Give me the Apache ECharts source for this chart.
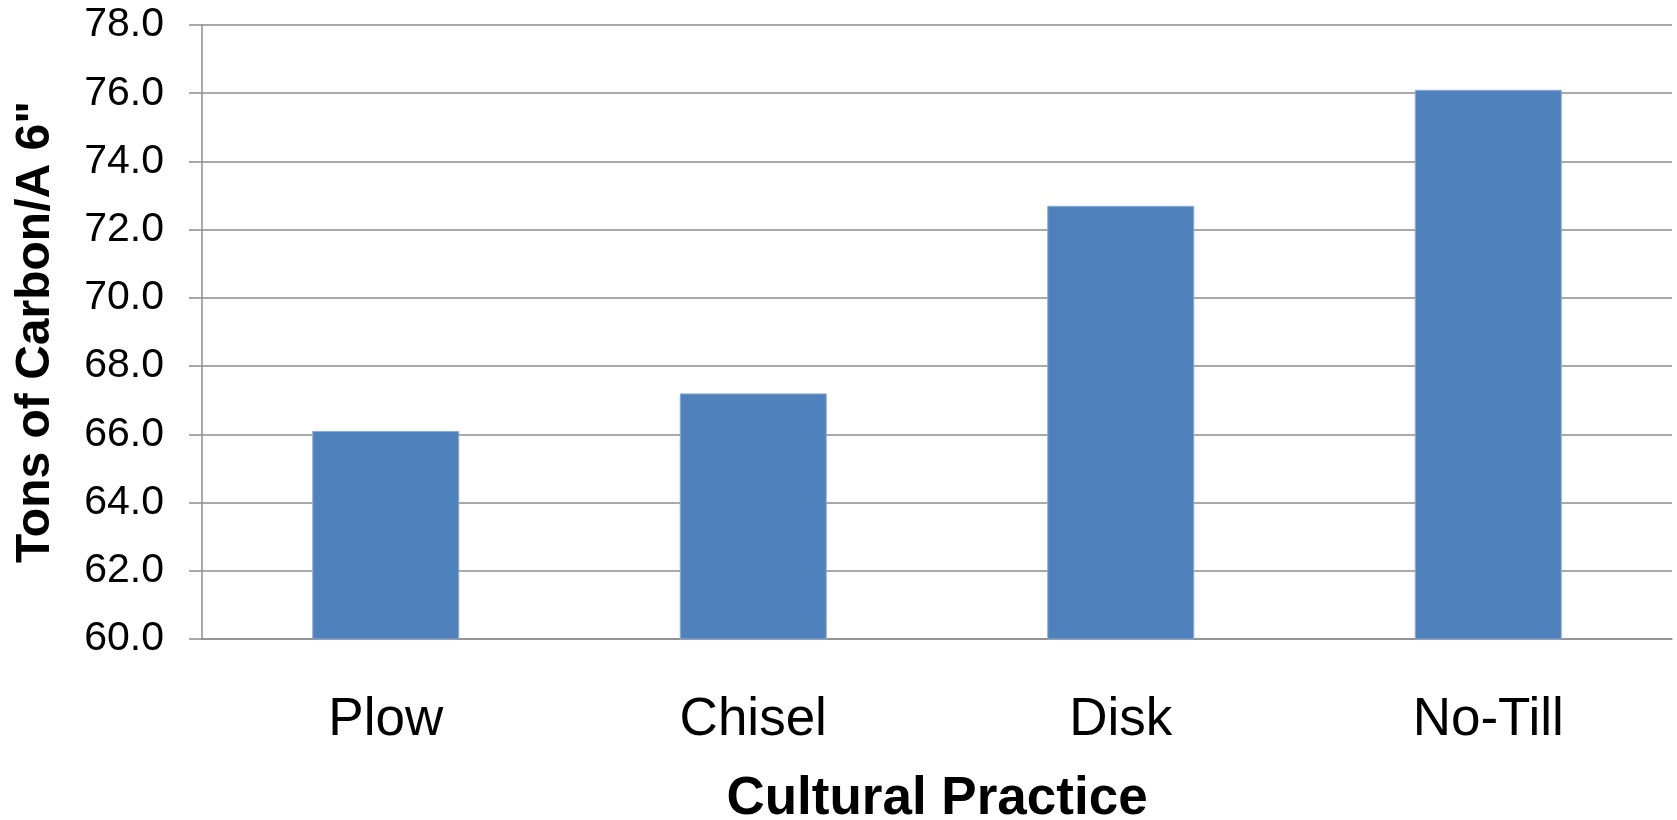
<!DOCTYPE html>
<html>
<head>
<meta charset="utf-8">
<script src="https://cdn.jsdelivr.net/npm/echarts@6/dist/echarts.min.js"></script>
<style>
  html, body { margin: 0; padding: 0; background: #fff; }
  #myChart { width: 1677px; height: 820px; }
</style>
</head>
<body>
<div id="myChart"></div>
<script>
// data
var categories = ['Plow', 'Chisel', 'Disk', 'No-Till'];
var carbonValues = [66.1, 67.2, 72.7, 76.1];
var yTicks = { min: 60, max: 78, interval: 2 };

var font = '"Liberation Sans", Arial, sans-serif';
var gridColor = '#8c8c8c';

var myChart = echarts.init(document.getElementById('myChart'));
myChart.setOption({
  animation: false,
  grid: {
    left: 202,
    right: 5,
    top: 25,
    bottom: 181,
    containLabel: false,
    outerBoundsMode: 'none'
  },
  xAxis: {
    type: 'category',
    data: categories,
    name: 'Cultural Practice',
    nameLocation: 'middle',
    nameGap: 134,
    nameTextStyle: {
      fontFamily: font,
      fontSize: 53,
      fontWeight: 'bold',
      color: '#000'
    },
    axisTick: { show: false },
    axisLine: {
      show: true,
      lineStyle: { color: gridColor, width: 1.5 }
    },
    axisLabel: {
      fontFamily: font,
      fontSize: 53,
      color: '#000',
      margin: 55,
      interval: 0
    }
  },
  yAxis: {
    type: 'value',
    min: yTicks.min,
    max: yTicks.max,
    interval: yTicks.interval,
    name: 'Tons of Carbon/A 6"',
    nameLocation: 'middle',
    nameGap: 142,
    nameTextStyle: {
      fontFamily: font,
      fontSize: 48,
      fontWeight: 'bold',
      color: '#000'
    },
    axisLine: {
      show: true,
      lineStyle: { color: gridColor, width: 1.5 }
    },
    axisTick: {
      show: true,
      length: 13,
      lineStyle: { color: gridColor, width: 1.5 }
    },
    axisLabel: {
      fontFamily: font,
      fontSize: 41,
      color: '#000',
      margin: 38,
      formatter: function (v) { return v.toFixed(1); }
    },
    splitLine: {
      lineStyle: { color: gridColor, width: 1.5 }
    }
  },
  series: [{
    type: 'bar',
    data: carbonValues,
    barWidth: '40%',
    itemStyle: {
      color: '#4f81bd',
      borderColor: '#8eabd4',
      borderWidth: 1
    }
  }]
});
</script>
</body>
</html>
